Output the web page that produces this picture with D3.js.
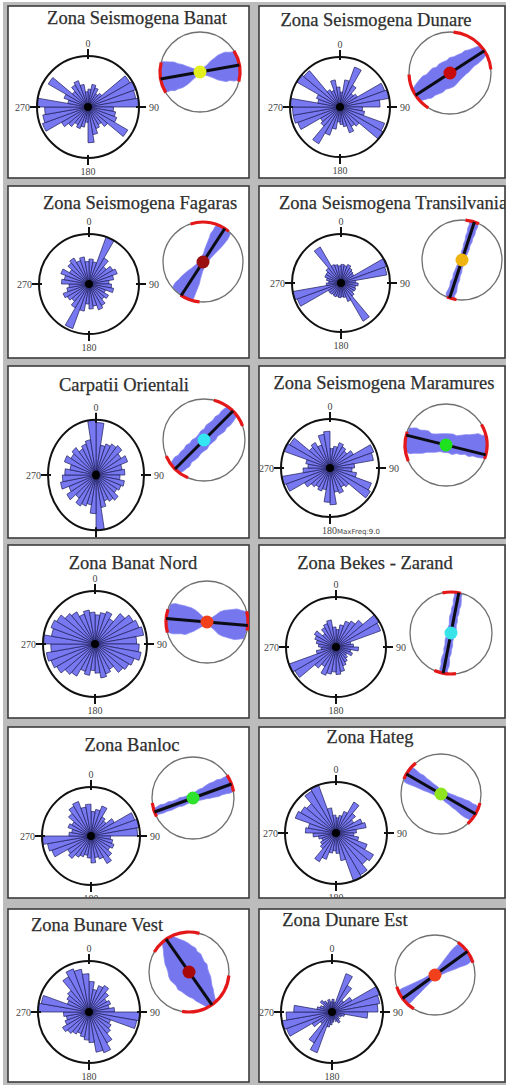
<!DOCTYPE html>
<html><head><meta charset="utf-8">
<script src="https://cdn.jsdelivr.net/npm/d3@7"></script>
<style>html,body{margin:0;padding:0;background:#fff}svg{display:block}</style>
</head><body>
<svg id="chart" width="506" height="1085"></svg>
<script>
// Zone names (panel titles), row by row, left then right
const zoneNames = [
  "Zona Seismogena Banat", "Zona Seismogena Dunare",
  "Zona Seismogena Fagaras", "Zona Seismogena Transilvania",
  "Carpatii Orientali", "Zona Seismogena Maramures",
  "Zona Banat Nord", "Zona Bekes - Zarand",
  "Zona Banloc", "Zona Hateg",
  "Zona Bunare Vest", "Zona Dunare Est"
];

// Rose diagram: relative frequency per 10° strike bin (0°,10°,…,350°)
const roseBanat       = [0.35,0.45,0.4,0.3,0.35,0.95,1.0,0.95,1.0,0.5,0.55,0.6,0.9,0.5,0.4,0.45,0.55,0.7,0.3,0.4,0.45,0.4,0.5,0.6,0.95,0.9,0.85,1.0,0.4,0.5,0.9,0.4,0.5,0.55,0.45,0.3];
const roseDunare      = [0.3,0.55,0.85,0.5,0.35,0.4,0.95,1.0,0.8,0.45,0.5,0.95,1.0,0.5,0.45,0.55,0.4,0.35,0.3,0.45,0.6,0.85,0.5,0.45,0.9,0.95,0.95,1.0,0.45,0.5,1.0,0.95,0.4,0.35,0.55,0.4];
const roseFagaras     = [0.5,0.45,1.0,0.6,0.45,0.55,0.6,0.5,0.4,0.45,0.5,0.35,0.45,0.4,0.5,0.55,0.45,0.5,0.4,0.55,0.95,0.55,0.45,0.5,0.55,0.45,0.4,0.55,0.5,0.6,0.45,0.55,0.6,0.5,0.55,0.45];
const roseTransilvania= [0.38,0.36,0.4,0.35,0.32,0.3,1.0,0.95,0.3,0.35,0.3,0.32,0.3,0.35,0.9,0.4,0.3,0.28,0.3,0.28,0.3,0.28,0.3,0.3,0.95,1.0,0.3,0.25,0.3,0.35,0.35,0.4,0.85,0.4,0.38,0.35];
const roseCarpatii    = [0.95,0.55,0.6,0.65,0.7,0.6,0.7,0.55,0.6,0.5,0.6,0.55,0.5,0.6,0.55,0.5,0.6,1.0,0.7,0.55,0.6,0.65,0.55,0.7,0.6,0.75,0.7,0.65,0.55,0.7,0.6,0.65,0.55,0.6,0.65,1.0];
const roseMaramures   = [0.4,0.45,0.55,0.5,0.45,0.55,0.95,0.9,0.5,0.45,0.55,0.9,0.95,0.5,0.45,0.55,0.5,0.75,0.7,0.45,0.5,0.45,0.5,0.6,0.95,1.0,0.55,0.45,0.5,1.0,0.95,0.55,0.6,0.5,0.7,0.75];
const roseBanatNord   = [0.55,0.6,0.65,0.55,0.75,0.85,0.9,0.95,0.8,0.85,0.9,0.8,0.75,0.7,0.55,0.6,0.65,0.55,0.5,0.6,0.55,0.7,0.75,0.85,0.9,0.95,0.85,1.0,0.85,0.9,0.85,0.75,0.7,0.6,0.65,0.6];
const roseBekes       = [0.35,0.45,0.55,0.6,0.7,1.0,0.95,0.3,0.35,0.45,0.3,0.35,0.25,0.3,0.35,0.4,0.5,0.55,0.5,0.55,0.6,0.45,0.55,0.95,1.0,0.4,0.3,0.35,0.4,0.45,0.5,0.35,0.45,0.5,0.55,0.4];
const roseBanloc      = [0.5,0.55,0.65,0.45,0.4,0.55,0.95,1.0,0.95,0.4,0.45,0.5,0.45,0.55,0.65,0.5,0.45,0.55,0.45,0.4,0.45,0.5,0.6,0.55,0.85,0.9,1.0,0.45,0.4,0.5,0.45,0.6,0.7,0.75,0.6,0.65];
const roseHateg       = [0.3,0.35,0.45,0.7,0.5,0.4,0.55,0.6,0.4,0.35,0.45,0.65,0.85,0.8,0.95,1.0,0.55,0.4,0.35,0.4,0.55,0.65,0.4,0.35,0.3,0.35,0.45,0.6,0.55,0.85,0.8,0.75,0.95,1.0,0.5,0.35];
const roseBunareVest  = [0.6,0.45,0.55,0.6,0.5,0.4,0.45,0.4,0.5,1.0,0.95,0.45,0.5,0.55,0.7,0.85,0.8,0.6,0.55,0.5,0.45,0.5,0.55,0.6,0.5,0.45,0.5,1.0,0.95,0.45,0.5,0.55,0.8,0.9,0.85,0.75];
const roseDunareEst   = [0.25,0.2,0.8,0.6,0.3,0.45,1.0,0.95,0.9,0.7,0.25,0.2,0.15,0.2,0.25,0.2,0.15,0.2,0.25,0.3,0.85,0.7,0.3,0.45,0.95,1.0,0.9,0.75,0.3,0.25,0.2,0.3,0.25,0.2,0.25,0.2];

// Maximum horizontal stress azimuth (degrees) per zone
const shmaxAzimuth = [80, 57, 33, 18, 45, 104, 95, 11, 70, 120, 145, 54];

// Uncertainty arcs on the stress circle: [from, to] in degrees, two per zone
const shmaxArcs = [
  [[58,104],[239,284]], [[5,85],[212,268]], [[-18,40],[185,214]], [[5,25],[188,202]],
  [[14,70],[203,247]], [[60,110],[247,289]], [[75,102],[255,288]], [[-12,14],[173,204]],
  [[56,81],[243,263]], [[103,138],[292,321]], [[-60,15],[95,190]], [[35,72],[212,253]]
];

// Orientation spread band: half-width (fraction of radius) on each side of the
// azimuth line, sampled at along-line positions -1, -0.9, …, 1
const bandLeft = [
  [0.4,0.42,0.4,0.38,0.36,0.3,0.26,0.2,0.14,0.09,0.07,0.09,0.14,0.22,0.27,0.33,0.36,0.38,0.36,0.35,0.36],
  [0.16,0.2,0.24,0.27,0.3,0.28,0.31,0.33,0.3,0.33,0.32,0.3,0.32,0.28,0.27,0.25,0.26,0.22,0.2,0.18,0.14],
  [0.28,0.3,0.3,0.27,0.26,0.23,0.2,0.16,0.13,0.1,0.08,0.1,0.11,0.14,0.16,0.18,0.2,0.23,0.22,0.23,0.2],
  [0.1,0.12,0.1,0.09,0.11,0.08,0.1,0.09,0.08,0.07,0.07,0.06,0.08,0.07,0.09,0.08,0.1,0.09,0.11,0.1,0.12],
  [0.16,0.19,0.21,0.18,0.2,0.19,0.22,0.19,0.21,0.18,0.19,0.21,0.19,0.22,0.2,0.19,0.21,0.18,0.2,0.19,0.16],
  [0.18,0.2,0.23,0.2,0.22,0.23,0.18,0.2,0.23,0.26,0.28,0.3,0.28,0.32,0.36,0.38,0.42,0.46,0.44,0.48,0.46],
  [0.3,0.36,0.38,0.36,0.35,0.33,0.31,0.26,0.19,0.11,0.07,0.11,0.19,0.28,0.32,0.34,0.36,0.38,0.36,0.34,0.3],
  [0.08,0.1,0.09,0.11,0.1,0.08,0.1,0.09,0.11,0.1,0.09,0.1,0.08,0.1,0.11,0.09,0.1,0.08,0.1,0.09,0.1],
  [0.08,0.1,0.12,0.1,0.12,0.1,0.1,0.12,0.1,0.1,0.1,0.12,0.15,0.15,0.18,0.2,0.2,0.22,0.2,0.22,0.2],
  [0.2,0.22,0.2,0.18,0.19,0.16,0.15,0.13,0.12,0.1,0.1,0.11,0.12,0.14,0.15,0.17,0.18,0.2,0.19,0.2,0.18],
  [0.16,0.22,0.28,0.35,0.4,0.43,0.48,0.46,0.5,0.48,0.46,0.48,0.43,0.4,0.38,0.33,0.28,0.25,0.2,0.16,0.12],
  [0.2,0.22,0.2,0.18,0.16,0.14,0.12,0.1,0.09,0.08,0.08,0.09,0.11,0.14,0.17,0.2,0.23,0.26,0.28,0.28,0.26]
];
const bandRight = [
  [0.33,0.35,0.33,0.35,0.32,0.31,0.27,0.22,0.15,0.09,0.07,0.09,0.14,0.2,0.27,0.31,0.35,0.34,0.37,0.37,0.35],
  [0.16,0.2,0.23,0.27,0.26,0.28,0.3,0.28,0.31,0.33,0.31,0.28,0.26,0.24,0.23,0.2,0.18,0.18,0.16,0.14,0.1],
  [0.28,0.3,0.28,0.26,0.24,0.22,0.18,0.15,0.12,0.1,0.08,0.1,0.11,0.13,0.15,0.17,0.19,0.2,0.21,0.2,0.18],
  [0.11,0.1,0.12,0.1,0.09,0.1,0.08,0.09,0.07,0.08,0.07,0.07,0.08,0.09,0.08,0.1,0.09,0.11,0.1,0.12,0.1],
  [0.15,0.18,0.19,0.21,0.17,0.19,0.2,0.18,0.19,0.21,0.18,0.19,0.2,0.17,0.19,0.21,0.18,0.2,0.19,0.17,0.15],
  [0.42,0.4,0.42,0.38,0.36,0.33,0.28,0.26,0.23,0.19,0.19,0.17,0.19,0.14,0.14,0.11,0.14,0.1,0.11,0.1,0.08],
  [0.3,0.34,0.36,0.35,0.34,0.35,0.3,0.25,0.18,0.11,0.07,0.11,0.18,0.27,0.31,0.33,0.35,0.37,0.35,0.33,0.3],
  [0.1,0.09,0.11,0.1,0.08,0.1,0.09,0.1,0.08,0.09,0.1,0.11,0.09,0.1,0.08,0.1,0.09,0.11,0.1,0.08,0.09],
  [0.07,0.09,0.1,0.09,0.1,0.09,0.08,0.1,0.09,0.08,0.09,0.1,0.12,0.13,0.15,0.16,0.18,0.17,0.18,0.2,0.18],
  [0.18,0.2,0.19,0.17,0.16,0.15,0.14,0.12,0.11,0.1,0.1,0.1,0.12,0.13,0.15,0.16,0.18,0.2,0.21,0.2,0.19],
  [0.12,0.17,0.22,0.28,0.33,0.38,0.4,0.43,0.48,0.5,0.48,0.46,0.48,0.43,0.4,0.36,0.3,0.27,0.22,0.17,0.12],
  [0.18,0.2,0.18,0.16,0.15,0.13,0.11,0.1,0.08,0.08,0.08,0.08,0.1,0.12,0.15,0.18,0.2,0.23,0.26,0.26,0.24]
];

// Compass tick labels on the rose
const compassLabels = ["0", "90", "180", "270"];
const maxFreqNote = [null, null, null, null, null, "MaxFreq:9.0", null, null, null, null, null, null];

const roses = [roseBanat, roseDunare, roseFagaras, roseTransilvania, roseCarpatii, roseMaramures,
               roseBanatNord, roseBekes, roseBanloc, roseHateg, roseBunareVest, roseDunareEst];

// ---------- styles and layout ----------
const dotColors = ["#e4f01c", "#c80a0a", "#9a1010", "#f0b410", "#34e6f2", "#1ee21e",
                   "#f2401a", "#38e4e8", "#2ee22e", "#8ee41e", "#a80808", "#f2401c"];
const petalFill = "#7878f0", bandFill = "#7676ee";

const cells = [
  {x:8, y:6, w:241, h:172}, {x:259, y:6, w:246, h:172},
  {x:8, y:186, w:241, h:172}, {x:259, y:186, w:246, h:172},
  {x:8, y:366, w:241, h:172}, {x:259, y:366, w:246, h:172},
  {x:8, y:545, w:241, h:173}, {x:259, y:545, w:246, h:173},
  {x:8, y:727, w:241, h:171}, {x:259, y:727, w:246, h:171},
  {x:8, y:909, w:241, h:173}, {x:259, y:909, w:246, h:173}
];
// rose centre x, centre y, radius, vertical stretch
const roseGeo = [
  [88,107,51,1],[340,107,50,1],[89,284,50,1],[341,283,49,1],[96,475,48,1.15],[330,468,49,1],
  [95,644,52,1.02],[336,647,50,1],[91,836,49,1],[336,833,51,1],[89,1012,51,1],[332,1012,51,1]
];
const circleGeo = [
  [200,72,40],[450,73,41],[203,262,40],[462,260,40],[204,440,41],[446,445,41],
  [207,622,41],[451,633,41],[193,798,41],[441,794,40],[189,972,40],[435,975,40]
];
const titleGeo = [
  [137,24,"middle"],[376,26,"middle"],[140,209,"middle"],[279,209,"start"],
  [124,391,"middle"],[384,389,"middle"],[133,569,"middle"],[375,569,"middle"],
  [132,751,"middle"],[370,743,"middle"],[97,931,"middle"],[345,926,"middle"]
];

const svg = d3.select("#chart");
const rad = d => d * Math.PI / 180;
const binStarts = d3.range(0, 360, 10);

// grey grid behind the panels
svg.append("rect").attr("x", 3).attr("y", 2).attr("width", 503).attr("height", 1083).attr("fill", "#bcbcbc");

const defs = svg.append("defs");

zoneNames.forEach((name, i) => {
  const c = cells[i];
  const g = svg.append("g");
  defs.append("clipPath").attr("id", "cell" + i)
    .append("rect").attr("x", c.x).attr("y", c.y).attr("width", c.w).attr("height", c.h);
  g.append("rect").attr("x", c.x).attr("y", c.y).attr("width", c.w).attr("height", c.h)
    .attr("fill", "#fff").attr("stroke", "#3c3c3c").attr("stroke-width", 1.6);
  const inner = g.append("g").attr("clip-path", `url(#cell${i})`);

  // title
  const [tx, ty, ta] = titleGeo[i];
  inner.append("text").attr("x", tx).attr("y", ty).attr("text-anchor", ta)
    .attr("font-family", "'Liberation Serif', serif").attr("font-size", 18.5)
    .attr("fill", "#2e2e2e").attr("stroke", "#2e2e2e").attr("stroke-width", 0.25).text(name);

  // ----- rose diagram -----
  const [cx, cy, R, ys] = roseGeo[i];
  const rScale = d3.scaleLinear().domain([0, 1]).range([0, R]);
  const rose = inner.append("g").attr("transform", `translate(${cx},${cy})`);
  const shape = rose.append("g").attr("transform", `scale(1,${ys})`);
  const arc = d3.arc().innerRadius(0);
  shape.selectAll("path.petal").data(roses[i]).join("path").attr("class", "petal")
    .attr("d", (v, k) => arc({outerRadius: rScale(v), startAngle: rad(binStarts[k]), endAngle: rad(binStarts[k] + 10)}))
    .attr("fill", petalFill).attr("stroke", "#1c1c5a").attr("stroke-width", 0.7)
    .attr("vector-effect", "non-scaling-stroke");
  shape.append("circle").attr("r", 4).attr("fill", "#000");
  shape.append("circle").attr("r", R).attr("fill", "none").attr("stroke", "#111").attr("stroke-width", 2)
    .attr("vector-effect", "non-scaling-stroke");
  // compass ticks
  [0, 90, 180, 270].forEach(a => {
    const s = Math.sin(rad(a)), co = -Math.cos(rad(a));
    rose.append("line").attr("x1", s * (R - 3)).attr("y1", co * (R * ys - 3))
      .attr("x2", s * (R + 7)).attr("y2", co * (R * ys + 7)).attr("stroke", "#111").attr("stroke-width", 2);
  });
  const lab = (x, y, anchor, txt) => rose.append("text").attr("x", x).attr("y", y)
    .attr("text-anchor", anchor).attr("font-family", "'Liberation Serif', serif")
    .attr("font-size", 10).attr("fill", "#444").text(txt);
  lab(0, -R * ys - 9, "middle", compassLabels[0]);
  lab(R + 10, 3.5, "start", compassLabels[1]);
  lab(-R - 7, 3.5, "end", compassLabels[3]);
  const bottom = lab(maxFreqNote[i] ? -8 : 0, R * ys + 17, maxFreqNote[i] ? "start" : "middle", compassLabels[2]);
  if (maxFreqNote[i]) bottom.append("tspan").attr("font-family", "'DejaVu Sans', sans-serif")
    .attr("font-size", 7).text(maxFreqNote[i]);

  // ----- stress orientation circle -----
  const [sx, sy, r] = circleGeo[i];
  const az = shmaxAzimuth[i];
  defs.append("clipPath").attr("id", "sc" + i).append("circle").attr("cx", sx).attr("cy", sy).attr("r", r - 0.5);
  const tScale = d3.scaleLinear().domain([-1, 1]).range([-r, r]);
  const wScale = d3.scaleLinear().domain([0, 1]).range([0, r]);
  const dx = Math.sin(rad(az)), dy = -Math.cos(rad(az));
  const nx = dy, ny = -dx;
  const ts = d3.range(21).map(k => -1 + k * 0.1);
  const pts = ts.map((t, k) => [dx * tScale(t) + nx * wScale(bandLeft[i][k]), dy * tScale(t) + ny * wScale(bandLeft[i][k])])
    .concat(ts.map((t, k) => [dx * tScale(t) - nx * wScale(bandRight[i][k]), dy * tScale(t) - ny * wScale(bandRight[i][k])]).reverse());
  // spread band first so the axis line and marker sit above it
  inner.append("g").attr("clip-path", `url(#sc${i})`)
    .append("path").attr("transform", `translate(${sx},${sy})`)
    .attr("d", d3.line().curve(d3.curveLinearClosed)(pts))
    .attr("fill", bandFill).attr("stroke", "#8a8af4").attr("stroke-width", 0.8);
  const sg = inner.append("g").attr("transform", `translate(${sx},${sy})`);
  sg.append("circle").attr("r", r).attr("fill", "none").attr("stroke", "#707070").attr("stroke-width", 1.3);
  const redArc = d3.arc().innerRadius(r - 1.6).outerRadius(r + 1.6);
  shmaxArcs[i].forEach(([a0, a1]) => sg.append("path")
    .attr("d", redArc({startAngle: rad(a0), endAngle: rad(a1)})).attr("fill", "#e41818"));
  sg.append("line").attr("x1", -dx * r).attr("y1", -dy * r).attr("x2", dx * r).attr("y2", dy * r)
    .attr("stroke", "#0c0c14").attr("stroke-width", 3);
  sg.append("circle").attr("r", 6.5).attr("fill", dotColors[i]);
});
</script>
</body></html>
